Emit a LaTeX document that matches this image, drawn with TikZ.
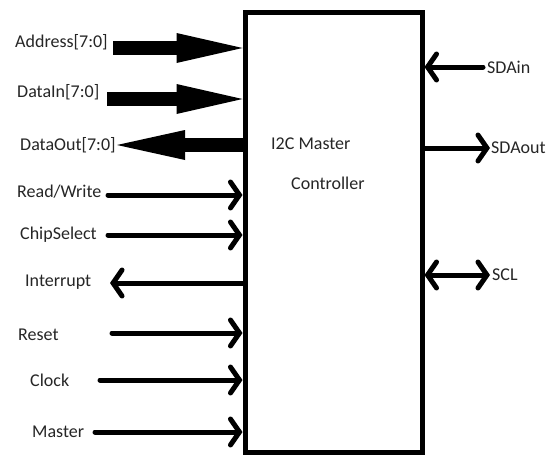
\documentclass[tikz,border=0pt]{standalone}
\usepackage{fontspec}
\setmainfont{Carlito}
\usetikzlibrary{arrows.meta, positioning, calc}
\tikzset{
  font=\fontsize{18}{21}\selectfont,
  ctrlblock/.style={
    rectangle, draw=black, line width=5pt,
    minimum width=177pt, minimum height=440pt, inner sep=0pt
  },
  siglabel/.style={anchor=west, inner sep=0pt, text=black!85},
  buswire/.style={draw=black, line width=14pt},
  busin/.style={buswire, -{Triangle[length=66pt, width=30pt, line width=0pt]}},
  busout/.style={buswire, {Triangle[length=68pt, width=30pt, line width=0pt]}-},
  sigwire/.style={draw=black, line width=5pt, line cap=round},
  sigin/.style={sigwire, -{Straight Barb[length=9pt, width=26pt, line cap=round]}},
  sigout/.style={sigwire, {Straight Barb[length=9pt, width=26pt, line cap=round]}-},
  sigboth/.style={sigwire, {Straight Barb[length=9pt, width=26pt, line cap=round]}-{Straight Barb[length=9pt, width=26pt, line cap=round]}}
}

\begin{document}
\begin{tikzpicture}[x=1pt, y=-1pt]

  \fill[white] (0,0) rectangle (555,455);
  \useasboundingbox (0,0) rectangle (555,455);

  % Controller block
  \node[ctrlblock] (ctrl) at (333.5,232) {};
  \node[siglabel] (ctrltop) at (271,144) {I2C Master};
  \node[siglabel] (ctrlbot) at (291,183) {Controller};

  % Bus ports
  \node[siglabel] (addr) at (15,42) {Address[7:0]};
  \node[siglabel] (datain) at (17,92) {DataIn[7:0]};
  \node[siglabel] (dataout) at (20,145) {DataOut[7:0]};
  \coordinate (addrs) at (113,48);
  \coordinate (datains) at (107,99);
  \coordinate (dataouts) at (117,145);

  \draw[busin] (addrs) -- (addrs -| ctrl.west);
  \draw[busin] (datains) -- (datains -| ctrl.west);
  \draw[busout] (dataouts) -- (dataouts -| ctrl.west);

  % Control ports
  \node[siglabel] (rw) at (17,192) {Read/Write};
  \node[siglabel] (cs) at (20,235) {ChipSelect};
  \node[siglabel] (irq) at (25,282) {Interrupt};
  \node[siglabel] (rst) at (18,335) {Reset};
  \node[siglabel] (clk) at (30,380) {Clock};
  \node[siglabel] (mst) at (32,432) {Master};
  \coordinate (rws) at (108,195);
  \coordinate (css) at (108,235);
  \coordinate (irqs) at (110,283);
  \coordinate (rsts) at (112,333);
  \coordinate (clks) at (100,380);
  \coordinate (msts) at (95,432);

  \draw[sigin] (rws) -- (rws -| ctrl.west);
  \draw[sigin] (css) -- (css -| ctrl.west);
  \draw[sigout] (irqs) -- (irqs -| ctrl.west);
  \draw[sigin] (rsts) -- (rsts -| ctrl.west);
  \draw[sigin] (clks) -- (clks -| ctrl.west);
  \draw[sigin] (msts) -- (msts -| ctrl.west);

  % I2C bus side
  \node[siglabel] (sdain) at (487,67) {SDAin};
  \node[siglabel] (sdaout) at (491,148) {SDAout};
  \node[siglabel] (scl) at (492,275) {SCL};
  \coordinate (sdains) at (483,67);
  \coordinate (sdaouts) at (490,148);
  \coordinate (scls) at (490,275);

  \draw[sigin] (sdains) -- (sdains -| ctrl.east);
  \draw[sigin] (sdaouts -| ctrl.east) -- (sdaouts);
  \draw[sigboth] (scls -| ctrl.east) -- (scls);

\end{tikzpicture}
\end{document}
